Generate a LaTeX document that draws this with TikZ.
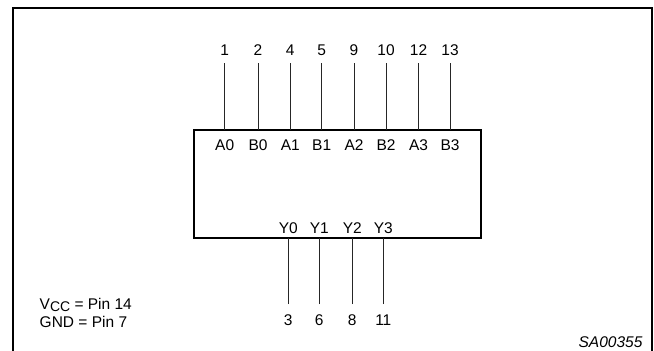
\documentclass[tikz,border=0pt]{standalone}
\usepackage{fontspec}
\setmainfont{Liberation Sans}
\tikzset{
  pinlabel/.style={inner sep=0pt,font=\fontsize{15.5}{15.5}\selectfont,anchor=base},
  wire/.style={line width=0.8pt,black!85},
  heavy/.style={line width=2pt,black},
}
\begin{document}
\begin{tikzpicture}[x=1pt,y=-1pt]
\useasboundingbox (0,0) rectangle (654,351);
\fill[white] (0,0) rectangle (654,351);
\draw[heavy] (12.5,351) -- (12.5,7.5) -- (651.7,7.5) -- (651.7,351);
\node[heavy,draw,outer sep=0pt,minimum width=287.5pt,minimum height=108.5pt,inner sep=0pt] (box) at (337.5,184) {};
\foreach \n/\x/\p/\l in {a/224.7/1/A0,b/258/2/B0,c/290.3/4/A1,d/321.7/5/B1,e/354/9/A2,f/386/10/B2,g/418.5/12/A3,h/450/13/B3}{
  \node[pinlabel] (p\n) at (\x,55.7) {\p};
  \node[pinlabel] (l\n) at (\x,150.5) {\l};
  \coordinate (t\n) at (\x,63);
  \draw[wire] (t\n) -- (t\n |- box.north);
}
\foreach \n/\x/\p/\l in {i/288.3/3/Y0,j/319.3/6/Y1,k/352.3/8/Y2,m/383.3/11/Y3}{
  \node[pinlabel] (p\n) at (\x,325) {\p};
  \node[pinlabel] (l\n) at (\x,233) {\l};
  \coordinate (t\n) at (\x,304);
  \draw[wire] (t\n) -- (t\n |- box.south);
}
\node[pinlabel,anchor=base west] (vcc) at (39.5,309) {V\raisebox{-0.3ex}{\fontsize{14}{14}\selectfont CC} = Pin 14};
\node[pinlabel,anchor=base west] (gnd) at (39.5,327) {GND = Pin 7};
\node[pinlabel,anchor=base east,font=\fontsize{15.5}{15.5}\selectfont\itshape] (code) at (642.6,347) {SA00355};
\end{tikzpicture}
\end{document}
